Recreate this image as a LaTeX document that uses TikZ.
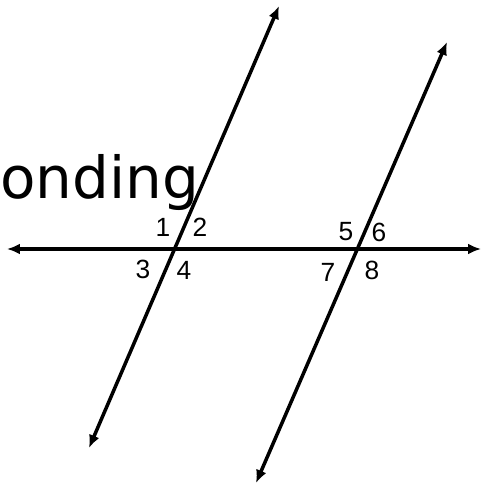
\documentclass[tikz,border=0pt]{standalone}
\usepackage{fontspec}
\setmainfont{Liberation Sans}
\newfontfamily\handfont{DejaVu Sans}
\usetikzlibrary{arrows.meta}

\begin{document}
\begin{tikzpicture}[x=0.02cm, y=-0.02cm,
    line/.style={line width=2pt, {Latex[length=2.6mm, width=2.2mm]}-{Latex[length=2.6mm, width=2.2mm]}},
    num/.style={font=\fontsize{15}{15}\selectfont, inner sep=0pt}]
      \useasboundingbox (0,0) rectangle (483,487);

      % Handwritten word
      \node[anchor=base west, inner sep=0pt, font=\handfont\fontsize{33}{33}\selectfont] (word) at (0,198) {onding};

      % Transversal
      \coordinate (hL) at (7,249);
      \coordinate (hR) at (481,249);
      \draw[line] (hL) -- (hR);

      % Parallel lines
      \coordinate (aB) at (89,448);
      \coordinate (aT) at (279,6);
      \coordinate (bB) at (256,483);
      \coordinate (bT) at (447,42);
      \draw[line] (aB) -- (aT);
      \draw[line] (bB) -- (bT);

      % Angle numbers
      \node[num] (n1) at (163,227) {1};
      \node[num] (n2) at (200,227) {2};
      \node[num] (n3) at (143,269) {3};
      \node[num] (n4) at (184,270) {4};
      \node[num] (n5) at (346,232) {5};
      \node[num] (n6) at (379,232) {6};
      \node[num] (n7) at (328,272) {7};
      \node[num] (n8) at (372,270) {8};
    \end{tikzpicture}
\end{document}
